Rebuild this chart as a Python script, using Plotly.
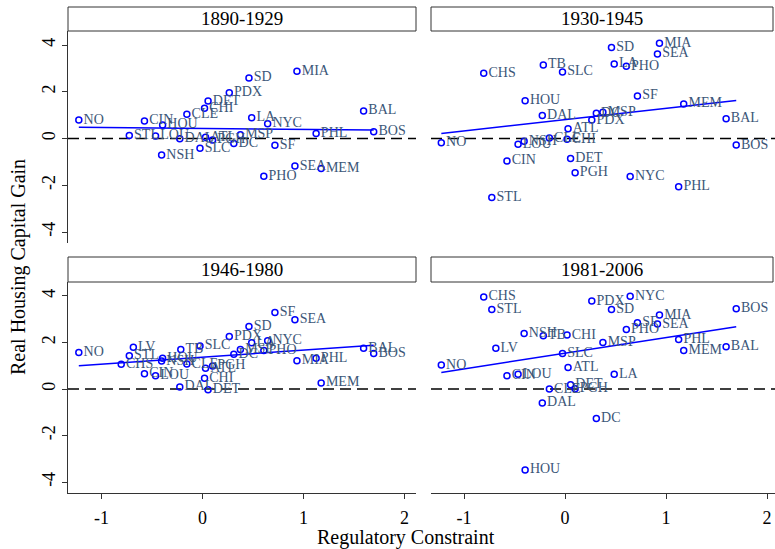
import numpy as np
import plotly.graph_objects as go

# ---------------- data ----------------
cities = ["NO", "CHS", "STL", "LV", "CIN", "LOU", "NSH", "HOU", "DAL", "TB",
          "CLE", "SLC", "CHI", "ATL", "DET", "PGH", "PDX", "DC", "MSP", "SD",
          "LA", "PHO", "NYC", "SF", "SEA", "MIA", "PHL", "MEM", "BAL", "BOS"]

regulatory_constraint = [-1.225, -0.805, -0.725, -0.685, -0.575, -0.465, -0.405, -0.395, -0.225, -0.215,
                         -0.155, -0.025, 0.02, 0.03, 0.055, 0.10, 0.265, 0.31, 0.375, 0.46,
                         0.487, 0.607, 0.645, 0.717, 0.915, 0.935, 1.125, 1.175, 1.595, 1.695]

gain_1890_1929 = [0.79, None, 0.13, None, 0.75, 0.11, -0.71, 0.58, -0.01, None,
                  1.04, -0.42, 1.29, 0.05, 1.60, -0.06, 1.96, -0.21, 0.16, 2.59,
                  0.89, -1.61, 0.63, -0.29, -1.18, 2.88, 0.21, -1.28, 1.18, 0.29]

gain_1930_1945 = [-0.18, 2.79, -2.52, None, -0.96, -0.24, -0.12, 1.62, 0.99, 3.15,
                  0.02, 2.85, -0.03, 0.42, -0.85, -1.46, 0.79, 1.08, 1.12, 3.89,
                  3.19, 3.09, -1.62, 1.82, 3.62, 4.08, -2.06, 1.48, 0.85, -0.28]

gain_1946_1980 = [1.57, 1.06, 1.43, 1.79, 0.66, 0.57, 1.20, 1.32, 0.09, 1.70,
                  1.07, 1.85, 0.46, 0.89, -0.03, 0.99, 2.26, 1.49, 1.70, 2.69,
                  1.99, 1.66, 2.07, 3.29, 2.98, 1.22, 1.32, 0.26, 1.75, 1.53]

gain_1981_2006 = [1.03, 3.96, 3.42, 1.75, 0.57, 0.63, 2.39, -3.48, -0.60, 2.29,
                  0.00, 1.53, 2.32, 0.92, 0.18, 0.01, 3.78, -1.27, 2.00, 3.42,
                  0.63, 2.56, 3.99, 2.85, 2.79, 3.18, 2.13, 1.66, 1.82, 3.45]

period_labels = ["1890-1929", "1930-1945", "1946-1980", "1981-2006"]
period_gains = [gain_1890_1929, gain_1930_1945, gain_1946_1980, gain_1981_2006]

x_ticks = [-1, 0, 1, 2]
x_tick_text = ["-1", "0", "1", "2"]
y_ticks = [-4, -2, 0, 2, 4]
y_tick_text = ["-4", "-2", "0", "2", "4"]

# ---------------- layout geometry (pixels) ----------------
W, H = 775, 549
FONT = "Liberation Serif"
BLUE = "#0000ff"
LABEL_COLOR = "#3b5678"
AX_COLOR = "#333333"

def px_x(p):
    return p / W

def px_y(p):
    return 1 - p / H

col_px = [(68, 416), (431, 775)]
row_px = [(31, 243), (282, 493)]
head_px = [(7, 31), (257, 282)]
x_ranges = [[-1.332, 2.114], [-1.327, 2.079]]
y_range = [-4.47, 4.60]

fig = go.Figure()

for i, (label, gains) in enumerate(zip(period_labels, period_gains)):
    r, c = divmod(i, 2)
    n = i + 1
    xa = "x" if n == 1 else f"x{n}"
    ya = "y" if n == 1 else f"y{n}"

    xs = [x for x, g in zip(regulatory_constraint, gains) if g is not None]
    ys = [g for g in gains if g is not None]
    names = [cty for cty, g in zip(cities, gains) if g is not None]

    # dashed zero line
    fig.add_shape(type="line", xref=f"{xa} domain", yref=ya, x0=0, x1=1, y0=0, y1=0,
                  line=dict(color="black", width=1.4, dash="11px,6px"), layer="below")

    # linear fit
    slope, intercept = np.polyfit(xs, ys, 1)
    fx = np.array([min(xs), max(xs)])
    fig.add_trace(go.Scatter(x=fx, y=intercept + slope * fx, mode="lines",
                             line=dict(color=BLUE, width=1.5), xaxis=xa, yaxis=ya,
                             showlegend=False, hoverinfo="skip"))

    # points with labels
    fig.add_trace(go.Scatter(x=xs, y=ys, mode="markers+text", text=names,
                             textposition="middle right",
                             textfont=dict(family=FONT, size=14, color=LABEL_COLOR),
                             marker=dict(symbol="circle-open", size=6, color=BLUE,
                                         line=dict(color=BLUE, width=1.5)),
                             xaxis=xa, yaxis=ya, showlegend=False, cliponaxis=False))

    x0p, x1p = col_px[c]
    y0p, y1p = row_px[r]
    bottom = (r == 1)
    left = (c == 0)
    fig.layout[("xaxis" if n == 1 else f"xaxis{n}")] = dict(
        domain=[px_x(x0p), min(px_x(x1p), 1.0)], range=x_ranges[c], anchor=ya,
        showgrid=False, zeroline=False,
        showline=bottom, linecolor=AX_COLOR, linewidth=1,
        ticks="outside" if bottom else "", ticklen=5, tickcolor=AX_COLOR,
        tickvals=x_ticks, ticktext=x_tick_text, showticklabels=bottom, ticklabelstandoff=3,
        tickfont=dict(family=FONT, size=18, color="black"))
    fig.layout[("yaxis" if n == 1 else f"yaxis{n}")] = dict(
        domain=[px_y(y1p), px_y(y0p)], range=y_range, anchor=xa,
        showgrid=False, zeroline=False,
        showline=left, linecolor=AX_COLOR, linewidth=1,
        ticks="outside" if left else "", ticklen=5, tickcolor=AX_COLOR,
        tickvals=y_ticks, ticktext=y_tick_text, showticklabels=left, tickangle=-90,
        ticklabelstandoff=0,
        tickfont=dict(family=FONT, size=18, color="black"))

    # header strip
    hy0, hy1 = head_px[r]
    hx1 = 773 if c == 1 else x1p
    fig.add_shape(type="rect", xref="paper", yref="paper",
                  x0=px_x(x0p), x1=px_x(hx1), y0=px_y(hy1), y1=px_y(hy0),
                  line=dict(color=AX_COLOR, width=1), fillcolor="white")
    fig.add_annotation(xref="paper", yref="paper", x=px_x((x0p + hx1) / 2),
                       y=px_y((hy0 + hy1) / 2), text=label, showarrow=False,
                       xanchor="center", yanchor="middle",
                       font=dict(family=FONT, size=19, color="black"))

fig.add_annotation(xref="paper", yref="paper", x=px_x(406), y=px_y(537),
                   text="Regulatory Constraint", showarrow=False,
                   xanchor="center", yanchor="middle",
                   font=dict(family=FONT, size=20, color="black"))
fig.add_annotation(xref="paper", yref="paper", x=px_x(18), y=px_y(267),
                   text="Real Housing Capital Gain", showarrow=False, textangle=-90,
                   xanchor="center", yanchor="middle",
                   font=dict(family=FONT, size=20, color="black"))

fig.update_layout(width=W, height=H, margin=dict(l=0, r=0, t=0, b=0),
                  paper_bgcolor="white", plot_bgcolor="white")

fig.write_html("out.html", config={"displayModeBar": False},
               post_script="document.body.style.margin='0';document.body.style.overflow='hidden';")
